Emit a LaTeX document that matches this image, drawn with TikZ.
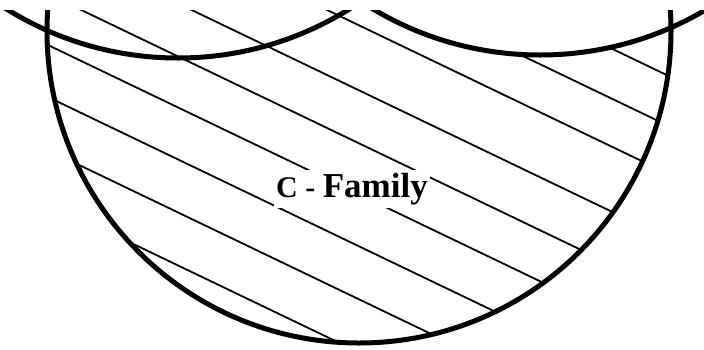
\documentclass[tikz,border=0pt]{standalone}
\usepackage{fontspec}
\setmainfont{Liberation Serif}
\begin{document}
\begin{tikzpicture}[x=1pt,y=-1pt,
  outline/.style={line width=5pt},
  hatch/.style={line width=1.8pt},
  lbl/.style={fill=white, inner xsep=2pt, inner ysep=3pt, anchor=base west}]
\useasboundingbox (0,0) rectangle (704,349);
\begin{scope}
  \clip (0,10) rectangle (704,349);
  \begin{scope}
    \clip (359,31) circle [radius=312pt];
    \foreach \cc in {-245,-195,-147,-82,-29,22,74,127,180}
      \draw[hatch] (0,\cc) -- (704,\cc+337.92);
  \end{scope}
  \fill[white] (540,-271) circle [radius=326pt];
  \node[lbl] (label) at (274,197) {\fontsize{30}{30}\selectfont\bfseries C - \fontsize{35}{35}\selectfont Family};
  \draw[outline] (359,31) circle [radius=312pt];
  \draw[outline] (178,-266) circle [radius=324pt];
  \draw[outline] (540,-271) circle [radius=326pt];
\end{scope}
\end{tikzpicture}
\end{document}
